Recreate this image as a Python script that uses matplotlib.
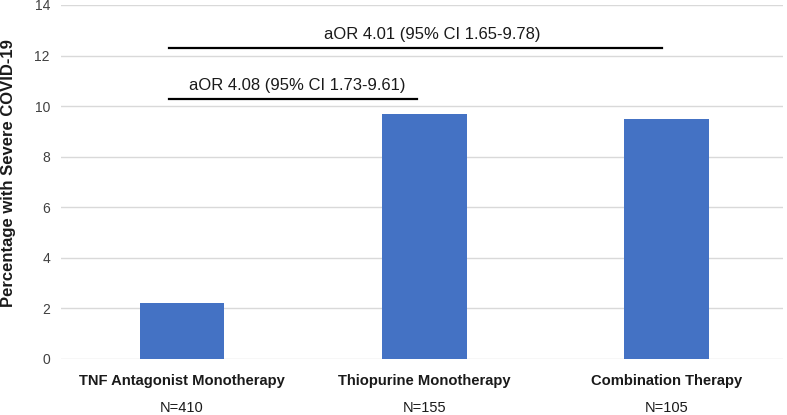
import matplotlib
matplotlib.use("Agg")
import matplotlib.pyplot as plt
from matplotlib import font_manager

plt.rcParams['font.family'] = ['Liberation Sans', 'DejaVu Sans']

categories = ["TNF Antagonist Monotherapy", "Thiopurine Monotherapy", "Combination Therapy"]
n_labels = ["N=410", "N=155", "N=105"]
severe_pct = [2.2, 9.7, 9.5]

# comparison brackets: (line start, line end, y level, text centre, label)
comparisons = [
    (-0.055, 0.97, 10.28, 0.475, "aOR 4.08 (95% CI 1.73-9.61)"),
    (-0.055, 1.98, 12.28, 1.035, "aOR 4.01 (95% CI 1.65-9.78)"),
]

installed = {f.name for f in font_manager.fontManager.ttflist}
cat_family = ['Liberation Sans Narrow'] if 'Liberation Sans Narrow' in installed else ['Liberation Sans']
cat_size = 12.3 if 'Liberation Sans Narrow' in installed else 10.6

fig = plt.figure(figsize=(7.87, 4.15), dpi=100)
ax = fig.add_axes([0.0775, 0.135, 0.917, 0.853])

x = list(range(len(categories)))
ax.bar(x, severe_pct, width=0.35, color="#4472C4", zorder=2)

ax.set_ylim(0, 14)
ax.set_yticks(range(0, 15, 2))
ax.set_xlim(-0.5, 2.48)
ax.grid(axis="y", color="#d9d9d9", linewidth=1, zorder=0)
for s in ax.spines.values():
    s.set_visible(False)
ax.tick_params(axis="y", length=0, labelsize=10, colors="#404040", pad=8)
ax.tick_params(axis="x", length=0)
ax.set_xticks(x)
ax.set_xticklabels(["" for _ in x])

for xi, cat, n in zip(x, categories, n_labels):
    ax.annotate(cat, xy=(xi, 0), xycoords="data", xytext=(0, -16), textcoords="offset points",
                ha="center", va="center", fontsize=cat_size, fontweight="bold",
                family=cat_family, color="#1a1a1a")
    ax.annotate(n, xy=(xi, 0), xycoords="data", xytext=(0, -35), textcoords="offset points",
                ha="center", va="center", fontsize=10.5, color="#1a1a1a")

for x0, x1, level, xt, label in comparisons:
    ax.plot([x0, x1], [level, level], color="black", linewidth=1.6, zorder=3)
    ax.annotate(label, xy=(xt, level), xycoords="data", xytext=(0, 10), textcoords="offset points",
                ha="center", va="center", fontsize=12, color="#1a1a1a")

fig.text(0.011, 0.583, "Percentage with Severe COVID-19", rotation=90, ha="center", va="center",
         fontsize=12, fontweight="bold", color="#1a1a1a")

fig.savefig("out.png", dpi=100)
